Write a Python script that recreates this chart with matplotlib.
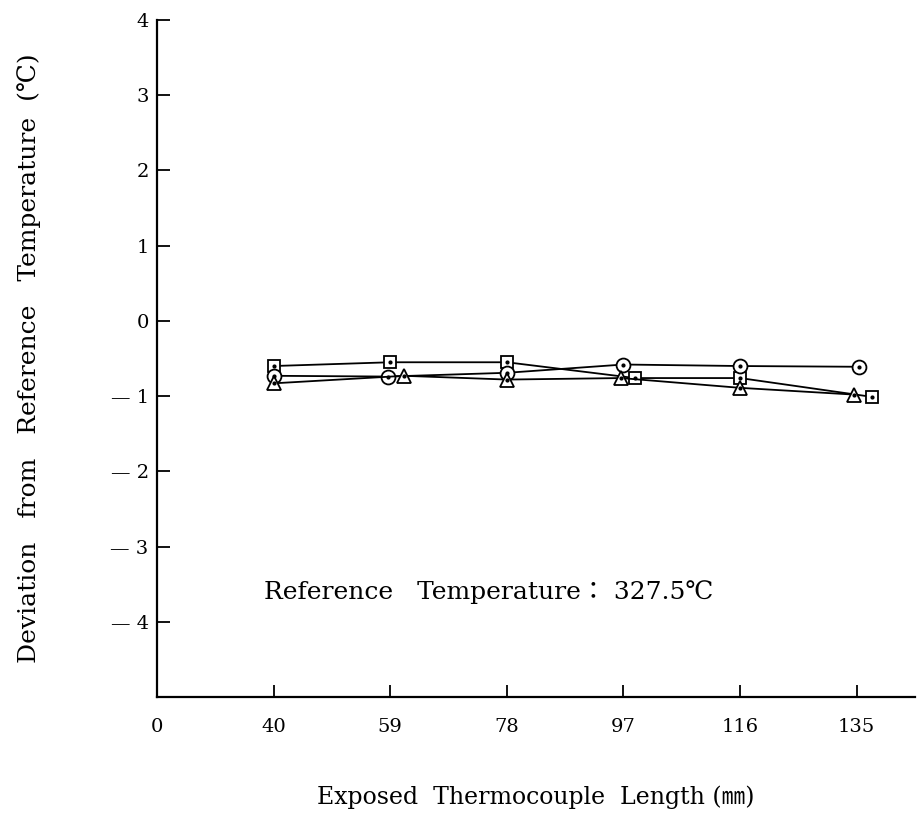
import matplotlib.pyplot as plt
import numpy as np

# exposed thermocouple length (mm), plotted as evenly spaced categories
lengths = [40, 59, 78, 97, 116, 135]
xtick_labels = ['0'] + [str(v) for v in lengths]

# deviation from reference temperature (deg C)
dev_square = [-0.60, -0.55, -0.55, -0.76, -0.76, -1.01]
dev_circle = [-0.73, -0.74, -0.69, -0.58, -0.60, -0.61]
dev_triangle = [-0.83, -0.73, -0.78, -0.76, -0.89, -0.98]

# small sideways shift of some markers so they don't overlap (as in the original)
shift_square = [0, 0, 0, 0.10, 0, 0.13]
shift_circle = [0, -0.02, 0, 0, 0, 0.02]
shift_triangle = [0, 0.12, 0, -0.02, 0, -0.02]

plt.rcParams['font.family'] = ['DejaVu Serif', 'Noto Sans CJK JP']

fig = plt.figure(figsize=(9.17, 8.27), dpi=100)
ax = fig.add_axes([157/917, 130/827, 758/917, 677/827])

x = np.arange(1, len(lengths) + 1)

def draw(vals, shift, marker, ms):
    xs = x + np.array(shift)
    ax.plot(xs, vals, color='black', lw=1.3, marker=marker, ms=ms,
            mfc='white', mec='black', mew=1.3, zorder=3)
    ax.plot(xs, vals, ls='none', marker='o', ms=2.0, color='black', zorder=4)

draw(dev_square, shift_square, 's', 9)
draw(dev_circle, shift_circle, 'o', 10)
draw(dev_triangle, shift_triangle, '^', 10.5)

ax.set_xlim(0, 6.5)
ax.set_ylim(-5, 4)
ax.set_xticks(np.arange(0, len(lengths) + 1))
ax.set_xticklabels(xtick_labels)
ax.set_yticks(np.arange(-4, 5))
ax.set_yticklabels([('\u2014 ' + str(-v)) if v < 0 else str(v) for v in range(-4, 5)])

ax.spines['top'].set_visible(False)
ax.spines['right'].set_visible(False)
for s in ['left', 'bottom']:
    ax.spines[s].set_linewidth(1.6)
ax.tick_params(direction='in', length=9, width=1.3, labelsize=14)
ax.tick_params(axis='y', pad=6)
ax.tick_params(axis='x', pad=15)
ax.xaxis.majorTicks[0].tick1line.set_visible(False)

ax.set_ylabel('Deviation   from   Reference   Temperature  (\u2103)', fontsize=18, labelpad=50)
ax.set_xlabel('Exposed  Thermocouple  Length (\u339c)', fontsize=17, labelpad=36)

ax.text(0.92, -3.6, 'Reference   Temperature\uff1a 327.5\u2103', fontsize=18, va='center')

plt.savefig('out.png', dpi=100)
